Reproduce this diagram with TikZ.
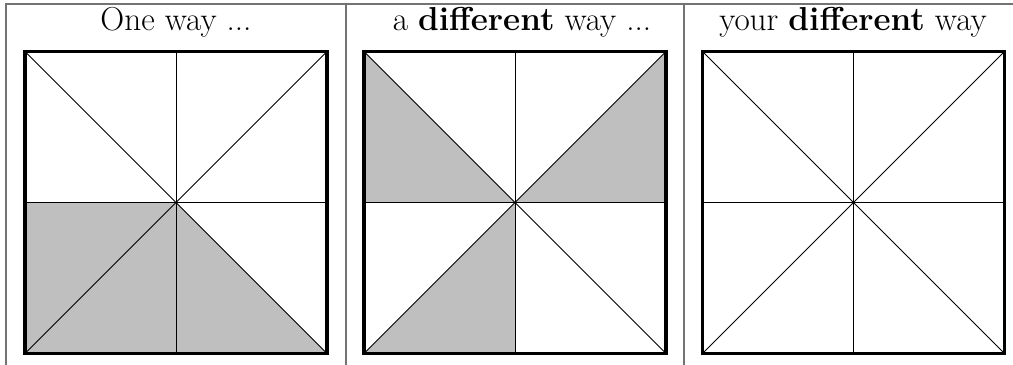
\documentclass[tikz,border=0pt]{standalone}
\usepackage{tikz}

\begin{document}
\begin{tikzpicture}[x=0.025cm, y=-0.025cm,
  rule/.style={draw=gray!90!black, line width=0.75pt},
  frame/.style={draw=black, line width=2.2pt},
  cut/.style={draw=black, line width=0.6pt},
  shade/.style={fill=gray!50},
  head/.style={anchor=base, inner sep=0pt, font=\fontsize{23.6}{28}\selectfont}
]
\useasboundingbox (0,0) rectangle (1013,365);

% Table rules
\draw[rule] (1013,4) -- (6,4) -- (6,365);
\draw[rule] (346,4) -- (346,365);
\draw[rule] (684,4) -- (684,365);

% Headings
\node[head] (h1) at (176,30.5) {One way ...};
\node[head] (h2) at (522,30.5) {a \textbf{different} way ...};
\node[head] (h3) at (853,30.5) {your \textbf{different} way};

% Corners and midpoints of the three squares
\foreach \x/\n in {25/a, 364/b, 702.5/c} {
  \coordinate (\n-nw) at (\x,51.5);
  \coordinate (\n-ne) at (\x+302,51.5);
  \coordinate (\n-sw) at (\x,353.5);
  \coordinate (\n-se) at (\x+302,353.5);
  \coordinate (\n-n) at (\x+151,51.5);
  \coordinate (\n-s) at (\x+151,353.5);
  \coordinate (\n-w) at (\x,202.5);
  \coordinate (\n-e) at (\x+302,202.5);
  \coordinate (\n-c) at (\x+151,202.5);
}

% One way
\fill[shade] (a-c) -- (a-w) -- (a-sw) -- (a-se) -- cycle;

% A different way
\fill[shade] (b-c) -- (b-nw) -- (b-w) -- cycle;
\fill[shade] (b-c) -- (b-ne) -- (b-e) -- cycle;
\fill[shade] (b-c) -- (b-s) -- (b-sw) -- cycle;

% Cuts and frames
\foreach \n in {a, b, c} {
  \draw[cut] (\n-n) -- (\n-s);
  \draw[cut] (\n-w) -- (\n-e);
  \draw[cut] (\n-nw) -- (\n-se);
  \draw[cut] (\n-ne) -- (\n-sw);
  \draw[frame] (\n-nw) rectangle (\n-se);
}

\end{tikzpicture}
\end{document}
